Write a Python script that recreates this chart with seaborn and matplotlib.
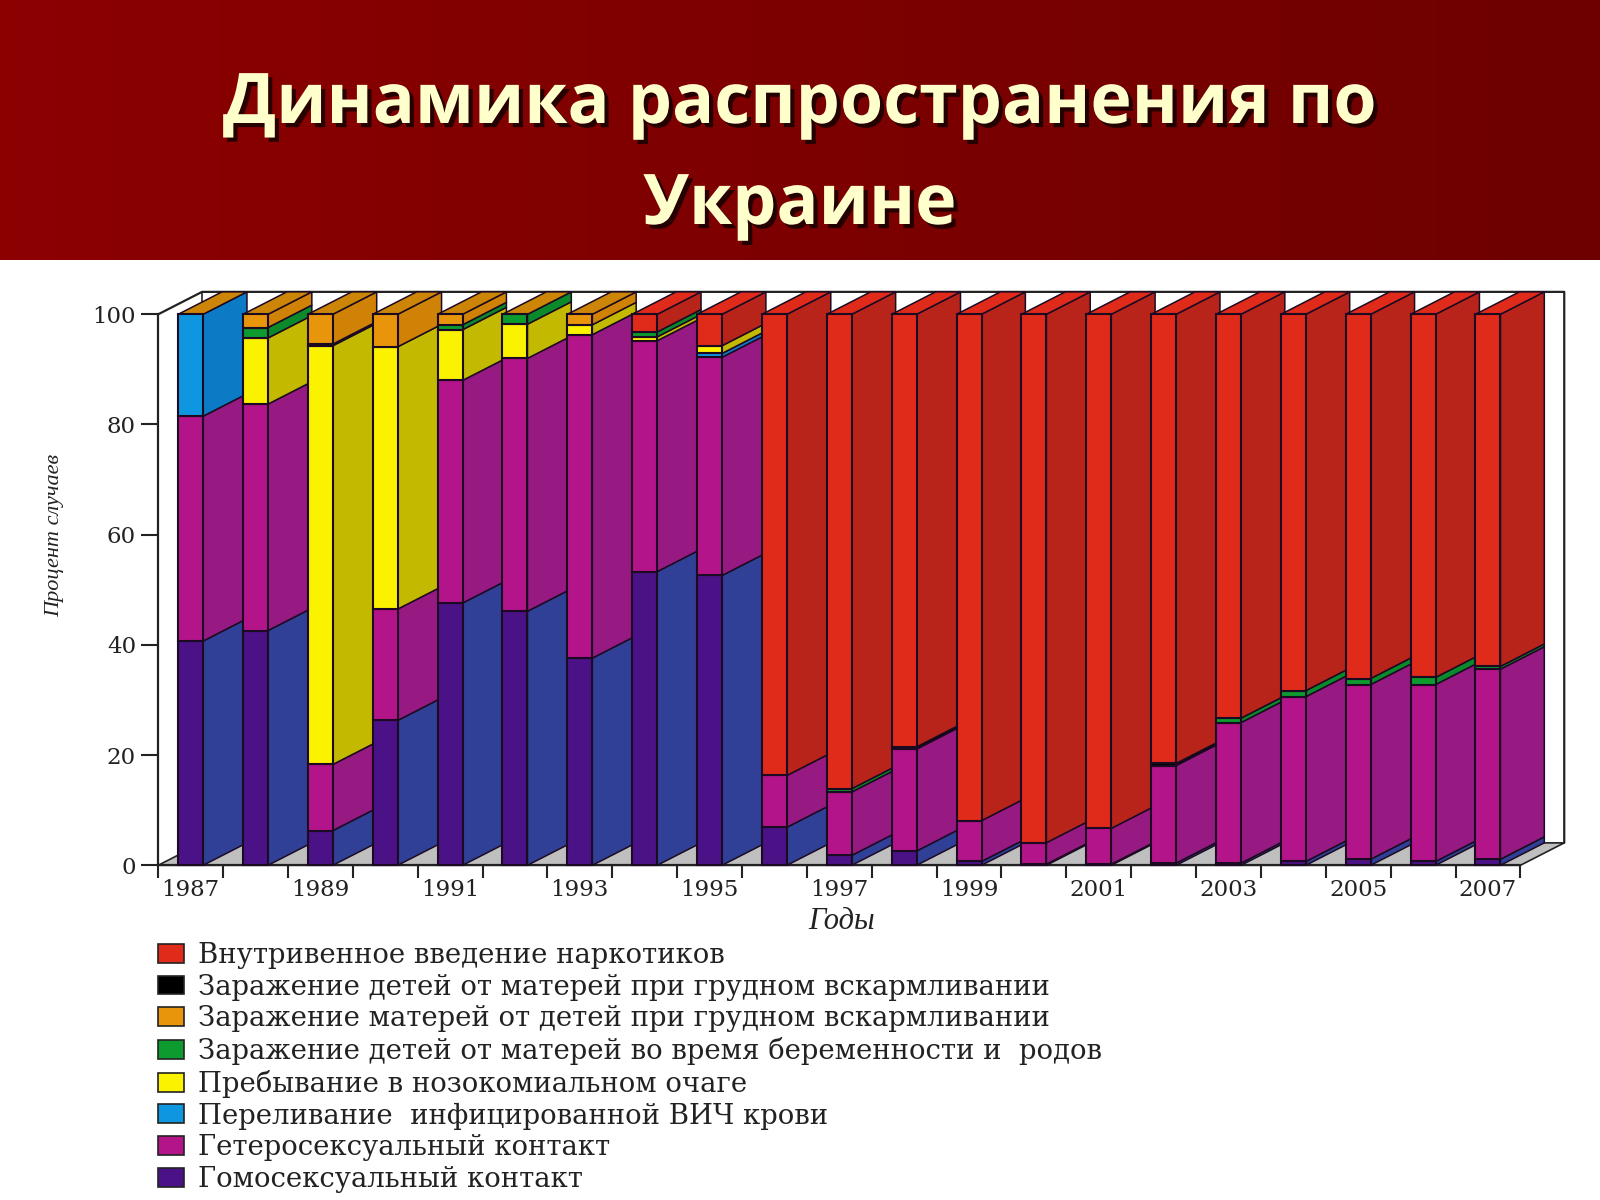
import numpy as np
import pandas as pd
import matplotlib
matplotlib.use("Agg")
import matplotlib.pyplot as plt
import matplotlib.patheffects as pe
from matplotlib.colors import LinearSegmentedColormap
from matplotlib.patches import Patch
import seaborn as sns

years = [str(y) for y in range(1987, 2008)]

# values in percent, stack order from the bottom up
homo = [40.7, 42.6, 6.3, 26.3, 47.6, 46.1, 37.6, 53.3, 52.6, 6.9, 1.8, 2.6, 0.7, 0.2, 0.2, 0.4, 0.4, 0.7, 1.1, 0.7, 1.1]
hetero = [40.8, 41.1, 12.0, 20.2, 40.4, 45.9, 58.7, 41.9, 39.6, 9.4, 11.5, 18.5, 7.4, 3.9, 6.5, 17.7, 25.5, 29.9, 31.7, 32.1, 34.5]
blood = [18.5, 0, 0, 0, 0, 0, 0, 0, 0.7, 0, 0, 0, 0, 0, 0, 0, 0, 0, 0, 0, 0]
nosocomial = [0, 12.0, 76.0, 47.6, 9.2, 6.2, 1.8, 0.7, 1.4, 0, 0, 0, 0, 0, 0, 0, 0, 0, 0, 0, 0]
pregnancy = [0, 1.9, 0.3, 0, 0.9, 1.8, 0, 0.9, 0, 0, 0.6, 0, 0, 0, 0, 0, 0.8, 1.1, 1.1, 1.3, 0.5]
mothers = [0, 2.4, 5.4, 5.9, 1.9, 0, 1.9, 0, 0, 0, 0, 0, 0, 0, 0, 0, 0, 0, 0, 0, 0]
children = [0, 0, 0, 0, 0, 0, 0, 0, 0, 0, 0, 0.4, 0, 0, 0, 0.4, 0, 0, 0, 0, 0]
drugs = [0, 0, 0, 0, 0, 0, 0, 3.2, 5.7, 83.7, 86.1, 78.5, 91.9, 95.9, 93.3, 81.5, 73.3, 68.3, 66.1, 65.9, 63.9]

series = [homo, hetero, blood, nosocomial, pregnancy, mothers, children, drugs]
front_colors = ["#4b1287", "#b3148a", "#0e96e0", "#fbf200", "#0d9a2e", "#e8950c", "#000000", "#e02a1a"]
side_colors = ["#2f4096", "#971a82", "#0d7ac6", "#c3b900", "#0a8a2a", "#cf8205", "#000000", "#b8241a"]
legend_labels = [
    "Внутривенное введение наркотиков",
    "Заражение детей от матерей при грудном вскармливании",
    "Заражение матерей от детей при грудном вскармливании",
    "Заражение детей от матерей во время беременности и  родов",
    "Пребывание в нозокомиальном очаге",
    "Переливание  инфицированной ВИЧ крови",
    "Гетеросексуальный контакт",
    "Гомосексуальный контакт",
]
legend_colors = ["#e02a1a", "#000000", "#e8950c", "#0d9a2e", "#fbf200", "#0e96e0", "#b3148a", "#4b1287"]
top_colors = ["#cc8506"] * 7 + ["#e02a1a"] * 14

sns.set_theme(style="white")
plt.rcParams["font.family"] = ["Liberation Serif", "DejaVu Serif"]

W, H = 1600, 1200
fig = plt.figure(figsize=(W / 100, H / 100), dpi=100, facecolor="white")

# banner
head = fig.add_axes([0, 1 - 260 / H, 1, 260 / H])
cmap = LinearSegmentedColormap.from_list("banner", ["#8c0000", "#6e0000"])
head.imshow(np.linspace(0, 1, 256)[None, :], cmap=cmap, aspect="auto")
head.axis("off")
shadow = [pe.withSimplePatchShadow(offset=(3, -3), shadow_rgbFace="black", alpha=0.7)]
for txt, ypx in [("Динамика распространения по", 105), ("Украине", 206)]:
    fig.text(0.5, 1 - ypx / H, txt, ha="center", va="center", fontsize=50.3, fontweight="bold",
             color="#ffffcc", family="Open Sans", path_effects=shadow)

# front plane of the 3d box
x_left, x_right, y_bottom, y_top = 158.2, 1520.4, 865.3, 314.3
ax = fig.add_axes([x_left / W, 1 - y_bottom / H, (x_right - x_left) / W, (y_bottom - y_top) / H])
ax.set_facecolor("none")

bar_w = 0.385
dx, dy = 0.676, 4.07
edge = "#1c0a22"

n = len(years)
bottoms = np.zeros(n)
for vals, fc, sc in zip(series, front_colors, side_colors):
    vals = np.array(vals, dtype=float)
    mask = vals > 0
    sub = pd.DataFrame({"year": np.array(years)[mask], "value": vals[mask]})
    sns.barplot(data=sub, x="year", y="value", order=years, bottom=bottoms[mask], width=bar_w,
                color=fc, saturation=1, errorbar=None, edgecolor=edge, linewidth=1.5, ax=ax)
    for patch in ax.containers[-1]:
        i = int(round(patch.get_x() + patch.get_width() / 2))
        patch.set_zorder(11 + 2 * i)
        patch.set_clip_on(False)
    for i in np.where(mask)[0]:
        x1 = i + bar_w / 2
        b, t = bottoms[i], bottoms[i] + vals[i]
        ax.fill([x1, x1 + dx, x1 + dx, x1], [b, b + dy, t + dy, t], facecolor=sc, edgecolor=edge,
                linewidth=1.1, zorder=10 + 2 * i, clip_on=False)
    bottoms += vals

# top faces
for i, col in enumerate(top_colors):
    x0, x1 = i - bar_w / 2, i + bar_w / 2
    ax.fill([x0, x1, x1 + dx, x0 + dx], [100, 100, 100 + dy, 100 + dy], facecolor=col, edgecolor=edge,
            linewidth=1.1, zorder=10 + 2 * i, clip_on=False)

# floor and back wall
xa, xb = -0.5, n - 0.5
ax.fill([xa, xb, xb + dx, xa + dx], [0, 0, dy, dy], facecolor="#bfbfbf", edgecolor="#222222",
        linewidth=1.2, zorder=1, clip_on=False)
ax.plot([xa, xa + dx, xb + dx, xb + dx], [100, 100 + dy, 100 + dy, dy], color="#222222", lw=1.6,
        zorder=1, clip_on=False)
ax.plot([xa + dx, xa + dx], [dy, 100 + dy], color="#222222", lw=1.2, zorder=1, clip_on=False)

ax.set_xlim(xa, xb)
ax.set_ylim(0, 100)
sns.despine(ax=ax, top=True, right=True)
for s in ["left", "bottom"]:
    ax.spines[s].set_color("#222222")
    ax.spines[s].set_linewidth(1.6)

ax.set_yticks(range(0, 101, 20))
ax.set_xticks(range(0, n, 2), years[::2])
ax.set_xticks(np.arange(xa, xb + 1), minor=True)
ax.tick_params(axis="x", which="major", length=0, pad=10, colors="#222222")
ax.tick_params(axis="x", which="minor", length=9, width=1.5, color="#222222", bottom=True)
ax.tick_params(axis="y", length=12, width=1.5, color="#222222", left=True, pad=4, labelcolor="#222222")
for lab in ax.get_xticklabels() + ax.get_yticklabels():
    lab.set_family("DejaVu Serif")
    lab.set_fontsize(16.5)

ax.set_xlabel("")
ax.set_ylabel("")
fig.text(54 * 1.0204 / W, 1 - 525 * 1.0204 / H, "Процент случаев", rotation=90, ha="center", va="center",
         fontsize=16, style="italic", color="#222222", family="Liberation Serif")
fig.text(825 * 1.0204 / W, 1 - 903 * 1.0204 / H, "Годы", ha="center", va="center",
         fontsize=22, style="italic", color="#222222", family="Liberation Serif")

handles = [Patch(facecolor=c, edgecolor="#222222", linewidth=1.2) for c in legend_colors]
leg = fig.legend(handles, legend_labels, loc="upper left", bbox_to_anchor=(158 / W, 1 - 942 / H),
                 frameon=False, prop={"family": "DejaVu Serif", "size": 19.85}, labelcolor="#222222",
                 handlelength=0.95, handleheight=0.68, handletextpad=0.5, labelspacing=0.17,
                 borderpad=0, borderaxespad=0)

fig.savefig("out.png", dpi=100, facecolor="white")
